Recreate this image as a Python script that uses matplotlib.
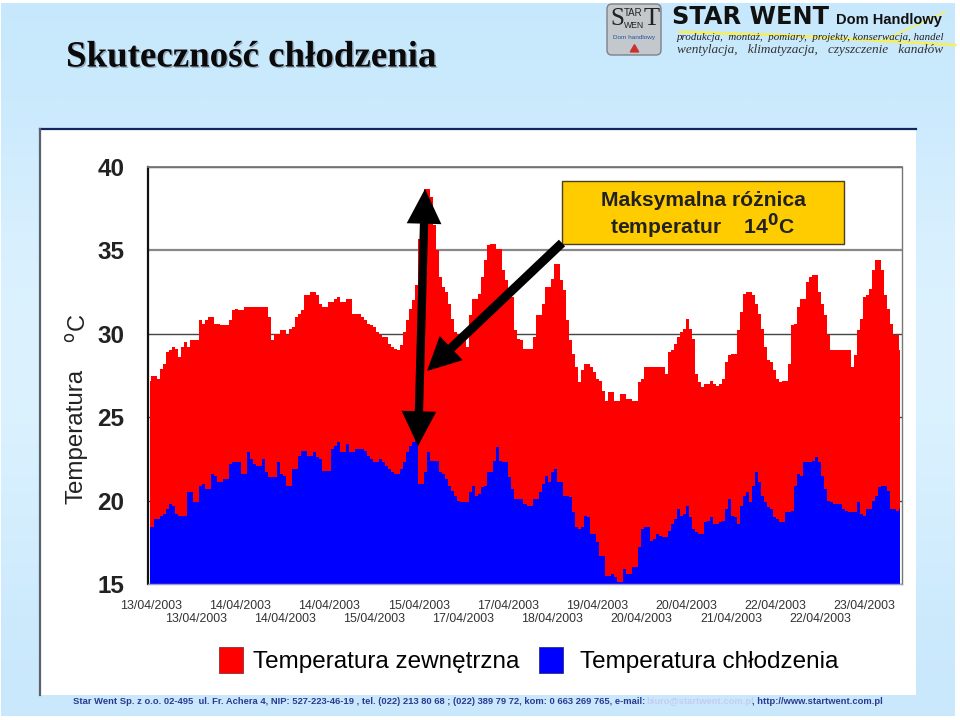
import numpy as np
import matplotlib
matplotlib.use("Agg")
import matplotlib.pyplot as plt
import matplotlib.patheffects as pe
from matplotlib.patches import FancyArrowPatch, FancyBboxPatch, Patch, Rectangle

plt.rcParams['font.family'] = ['Liberation Sans', 'DejaVu Sans']

# Temperatura zewnetrzna (odczyt z obrazka)
temp_zewn = [
    27.2, 27.5, 27.5, 27.3, 27.9, 28.2, 28.9, 29.0, 29.2, 29.1, 28.6, 29.2, 29.5, 29.2, 29.6,
    29.6, 29.6, 30.8, 30.6, 30.8, 31.0, 31.0, 30.6, 30.6, 30.5, 30.5, 30.5, 30.8, 31.4, 31.5,
    31.4, 31.4, 31.6, 31.6, 31.6, 31.6, 31.6, 31.6, 31.6, 31.6, 31.0, 29.6, 30.0, 30.0, 30.2,
    30.2, 29.9, 30.3, 30.4, 31.0, 31.2, 31.4, 32.3, 32.3, 32.5, 32.5, 32.3, 31.8, 31.6, 31.6,
    31.9, 31.9, 32.1, 32.2, 31.9, 31.9, 32.1, 32.1, 31.2, 31.2, 31.2, 31.0, 30.8, 30.6, 30.5,
    30.4, 30.1, 29.9, 29.8, 29.8, 29.4, 29.2, 29.1, 29.0, 29.3, 30.1, 30.8, 31.5, 32.0, 32.9,
    35.7, 35.7, 38.7, 38.7, 38.2, 36.5, 35.0, 33.4,
    32.8, 32.5, 31.8, 30.9, 30.1, 30.0, 29.9, 30.0, 29.2, 31.1, 32.1, 32.1, 32.4, 33.4, 34.4,
    35.3, 35.4, 35.4, 35.1, 35.1, 33.8, 33.2, 32.2, 32.2, 30.2, 29.7, 29.6, 29.1, 29.1, 29.1,
    29.8, 31.1, 31.1, 31.8, 32.8, 32.8, 33.3, 34.2, 34.2, 33.2, 32.6, 30.8, 29.6, 28.8, 28.0,
    27.1, 27.8, 28.2, 28.2, 28.0, 27.7, 27.3, 27.2, 26.6, 26.0, 26.5, 26.5, 26.0, 26.0, 26.4,
    26.4, 26.1, 26.1, 26.0, 26.0, 27.1, 27.3, 28.0, 28.0, 28.0, 28.0, 28.0, 28.0,
    28.0, 27.6, 28.9, 29.0, 29.4, 29.8, 30.1, 30.3, 30.9, 30.3, 29.7, 27.6, 27.1, 26.8, 27.0,
    27.0, 27.2, 27.0, 26.9, 27.0, 27.3, 28.3, 28.7, 28.8, 28.8, 30.2, 31.3, 32.4, 32.5, 32.5,
    32.3, 31.8, 31.2, 30.3, 29.2, 28.4, 28.3, 27.8, 27.3, 27.1, 27.2, 27.2, 28.2, 30.5, 30.6,
    31.6, 32.1, 32.1, 33.1, 33.4, 33.5, 33.5, 32.5, 31.8, 31.1, 29.9, 29.0, 29.0, 29.0, 29.0,
    29.0, 29.0, 29.0, 28.0, 28.7, 30.2, 30.9, 32.2, 32.3, 32.7, 33.8, 34.4, 34.4, 33.8, 32.3,
    31.5, 30.6, 29.9, 29.9, 29.0,
]

# Temperatura chlodzenia
temp_chlodz = [
    18.4, 18.4, 18.9, 18.9, 19.1, 19.2, 19.5, 19.8, 19.7, 19.2, 19.1, 19.1, 19.1, 20.5, 20.5,
    19.9, 19.9, 20.9, 21.0, 20.7, 20.7, 21.6, 21.5, 21.1, 21.1, 21.3, 21.3, 22.2, 22.3, 22.3,
    22.3, 21.6, 21.6, 22.9, 22.5, 22.2, 22.1, 22.1, 22.5, 21.7, 21.4, 21.4, 21.4, 22.3, 21.6,
    21.5, 20.9, 20.9, 21.9, 21.9, 22.7, 23.0, 23.0, 22.7, 22.7, 22.9, 22.6, 22.5, 21.8, 21.8,
    21.8, 23.1, 23.3, 23.5, 22.9, 22.9, 23.4, 22.9, 22.9, 23.1, 23.1, 23.1, 23.0, 22.7, 22.5,
    22.3, 22.3, 22.5, 22.3, 22.1, 21.9, 21.7, 21.6, 21.6, 21.9, 22.3, 22.9, 23.3, 23.5, 23.6,
    21.0, 21.0, 21.7, 22.9, 22.4, 22.4, 22.4, 21.7,
    21.6, 21.3, 20.9, 20.6, 20.3, 20.0, 19.9, 19.9, 19.9, 20.5, 20.9, 20.3, 20.4, 20.8, 20.9,
    21.7, 21.7, 22.4, 23.2, 22.4, 22.3, 22.3, 21.4, 20.7, 20.1, 20.1, 20.1, 19.8, 19.7, 19.7,
    20.1, 20.1, 20.5, 21.0, 21.5, 21.1, 21.7, 21.9, 21.1, 21.1, 20.3, 20.3, 20.2, 19.3, 18.4,
    18.3, 18.4, 19.1, 19.0, 18.0, 18.0, 17.5, 16.7, 16.7, 15.5, 15.5, 15.6, 15.4, 15.1, 15.1,
    15.9, 15.6, 15.6, 16.0, 16.0, 17.2, 18.3, 18.4, 18.4, 17.6, 17.7, 18.0, 17.9, 17.8, 17.8,
    18.2, 18.6, 18.9, 19.5, 19.1,
    19.2, 19.7, 19.0, 18.3, 18.1, 18.0, 18.0, 18.7, 18.8, 19.0, 18.6, 18.6, 18.7, 18.8, 19.5,
    20.1, 19.1, 19.0, 18.6, 19.7, 20.3, 20.5, 19.9, 20.9, 21.7, 21.1, 20.3, 19.9, 19.6, 19.5,
    19.0, 18.9, 18.7, 18.7, 19.3, 19.3, 19.4, 20.9, 21.6, 21.5, 22.3, 22.3, 22.3, 22.4, 22.6,
    22.3, 21.5, 20.7, 20.0, 19.9, 19.8, 19.8, 19.8, 19.5, 19.4, 19.3, 19.3, 19.3, 19.9, 19.2,
    19.1, 19.5, 19.5, 20.0, 20.3, 20.8, 20.9, 20.9, 20.6, 19.5, 19.5, 19.4, 19.5,
]

daty = [
    "13/04/2003", "13/04/2003", "14/04/2003", "14/04/2003", "14/04/2003", "15/04/2003",
    "15/04/2003", "17/04/2003", "17/04/2003", "18/04/2003", "19/04/2003", "20/04/2003",
    "20/04/2003", "21/04/2003", "22/04/2003", "22/04/2003", "23/04/2003",
]
y_ticks = [15, 20, 25, 30, 35, 40]

W, H = 960, 720
fig = plt.figure(figsize=(W / 100, H / 100), dpi=100, facecolor='white')

# tlo slajdu i biale pole, wspolrzedne w pikselach
bg = fig.add_axes([0, 0, 1, 1], zorder=0)
bg.set_xlim(0, W)
bg.set_ylim(H, 0)
bg.axis('off')
grad = np.array([[0.78, 0.91, 0.99], [0.87, 0.95, 1.0], [0.86, 0.95, 1.0], [0.79, 0.91, 0.99]])
bg.imshow(grad[:, None, :], extent=(1, 955, 716, 3), aspect='auto', interpolation='bicubic', zorder=0)
bg.set_xlim(0, W)
bg.set_ylim(H, 0)
bg.add_patch(Rectangle((40, 129), 876, 566, fc='white', ec='none', zorder=1))
bg.plot([40, 916], [129, 129], color='#12275e', lw=1.6, zorder=2)
bg.plot([40, 40], [129, 695], color='#59626b', lw=1.6, zorder=2)

title = bg.text(66, 57, "Skuteczność chłodzenia", family=['Liberation Serif'], weight='bold',
                fontsize=26.6, color='#0a0a0a', va='center', ha='left', zorder=3)
title.set_path_effects([pe.withSimplePatchShadow(offset=(1, -1), shadow_rgbFace='#8a9db0', alpha=0.8)])

# logo
bg.add_patch(FancyBboxPatch((608, 5), 52, 49, boxstyle="round,pad=1,rounding_size=5",
                            fc='#c3c8cc', ec='#7c8288', lw=1, zorder=2))
bg.text(610, 19, "S", family=['Liberation Serif'], fontsize=18, color='#222', va='center', zorder=3)
bg.text(624, 13, "TAR", fontsize=7, color='#222', va='center', zorder=3)
bg.text(624, 25, "WEN", fontsize=6.2, color='#222', va='center', zorder=3)
bg.text(644, 19, "T", family=['Liberation Serif'], fontsize=19, color='#222', va='center', zorder=3)
bg.text(634, 38, "Dom handlowy", fontsize=4.6, color='#2a4fa0', ha='center', va='center', zorder=3)
bg.plot([634], [49], marker=(3, 1), ms=7, color='#c8342c', zorder=3)
bg.plot([680, 780, 955], [32, 35, 45], color='#f4ee62', lw=2, zorder=2)
bg.plot([880, 945], [42, 12], color='#f4ee62', lw=1.2, zorder=2)
bg.text(672, 17, "STAR WENT", family=['DejaVu Sans'], weight='bold', fontsize=17.3, color='#111', va='center', zorder=3)
bg.text(836, 20, "Dom Handlowy", weight='bold', fontsize=10.5, color='#111', va='center', zorder=3)
bg.text(677, 37, "produkcja,  montaż,  pomiary,  projekty, konserwacja, handel", family=['Liberation Serif'],
        style='italic', fontsize=7.8, color='#222', va='center', zorder=3)
bg.text(677, 50, "wentylacja,   klimatyzacja,   czyszczenie   kanałów", family=['Liberation Serif'],
        style='italic', fontsize=9.5, color='#333', va='center', zorder=3)

# wykres
ax = fig.add_axes([148 / W, 1 - 584 / H, 754 / W, 417 / H], zorder=2)
ax.set_facecolor('white')
x = np.arange(len(temp_zewn))
ax.fill_between(x, 15, temp_zewn, step='mid', color='#ff0000', lw=0)
ax.fill_between(x, 15, temp_chlodz, step='mid', color='#0000ff', lw=0)
ax.set_xlim(-0.5, len(x) - 0.5)
ax.set_ylim(15, 40)

ax.set_yticks(y_ticks)
ax.set_yticklabels([str(v) for v in y_ticks], fontsize=17.5, weight='bold', color='#222222')
ax.tick_params(axis='y', length=0, pad=17)
ax.yaxis.grid(True, color='#444444', lw=1.0)
ax.get_ygridlines()[y_ticks.index(35)].set(color='#888888', lw=1.6)
ax.set_axisbelow(True)

# dwa rzedy dat: gorny jako glowne, dolny jako pomocnicze
tick_pos = 0.5 + 14.85 * np.arange(len(daty))
ax.set_xticks(tick_pos[::2])
ax.set_xticklabels(daty[::2], fontsize=8.9, color='#333333')
ax.set_xticks(tick_pos[1::2], minor=True)
ax.set_xticklabels(daty[1::2], minor=True, fontsize=8.9, color='#333333')
ax.tick_params(axis='x', which='major', length=0, pad=11.5)
ax.tick_params(axis='x', which='minor', length=0, pad=21)

ax.spines['left'].set_color('#111111')
ax.spines['left'].set_linewidth(1.6)
ax.spines['top'].set_color('#777777')
ax.spines['top'].set_linewidth(1.3)
ax.spines['right'].set_color('#777777')
ax.spines['right'].set_linewidth(1.0)
ax.spines['bottom'].set_color('#9a9ad8')
ax.spines['bottom'].set_linewidth(1.0)

legenda = dict(frameon=False, fontsize=17.45, loc='center left', bbox_transform=fig.transFigure, borderpad=0,
               borderaxespad=0, handlelength=1.0, handleheight=1.3)
leg1 = ax.legend([Patch(fc='#ff0000', ec='#8a3030', lw=0.6)], ["Temperatura zewnętrzna"],
                 bbox_to_anchor=(219 / W, 1 - 660 / H), handletextpad=0.42, **legenda)
ax.add_artist(leg1)
ax.legend([Patch(fc='#0000ff', ec='#303080', lw=0.6)], ["Temperatura chłodzenia"],
          bbox_to_anchor=(539 / W, 1 - 660 / H), handletextpad=0.7, **legenda)

# napisy i strzalki na wierzchu
top = fig.add_axes([0, 0, 1, 1], zorder=3)
top.set_xlim(0, W)
top.set_ylim(H, 0)
top.axis('off')
top.text(77, 436, "Temperatura", rotation=90, fontsize=17.4, color='#222222', ha='center', va='center')
top.text(79, 328, "$^{\\mathrm{o}}$C", rotation=90, fontsize=17, color='#222222', ha='center', va='center')

top.add_patch(Rectangle((562, 181), 282, 63, fc='#ffcc00', ec='#4a4020', lw=1, zorder=2))
top.text(703, 201, "Maksymalna różnica", fontsize=15.2, weight='bold', color='#222222',
         ha='center', va='center', zorder=3)
top.text(703, 226, "temperatur    14$^{\\mathbf{0}}$C", fontsize=15.2, weight='bold', color='#222222',
         ha='center', va='center', zorder=3)


def strzalka(p0, p1, head_w, head_l, tail_w):
    style = f"simple,head_length={head_l},head_width={head_w},tail_width={tail_w}"
    top.add_patch(FancyArrowPatch(p0, p1, arrowstyle=style, mutation_scale=1, shrinkA=0, shrinkB=0,
                                  fc='black', ec='none', zorder=4))


strzalka((421.5, 317), (425, 189), 25, 25, 6)
strzalka((421.5, 317), (418, 446), 25, 25, 6)
strzalka((562, 243), (427, 371), 24, 24, 6.5)

# stopka
stopka = dict(fontsize=6.75, weight='bold', va='center', zorder=3)
bg.text(73, 702, "Star Went Sp. z o.o. 02-495  ul. Fr. Achera 4, NIP: 527-223-46-19 , tel. (022) 213 80 68 ; "
        "(022) 389 79 72, kom: 0 663 269 765, e-mail:", color='#2b3a8f', **stopka)
bg.text(646, 702, "biuro@startwent.com.pl", color='#c5cdf2', **stopka)
bg.text(752, 702, ", http://www.startwent.com.pl", color='#2b3a8f', **stopka)

fig.savefig("out.png", dpi=100)
